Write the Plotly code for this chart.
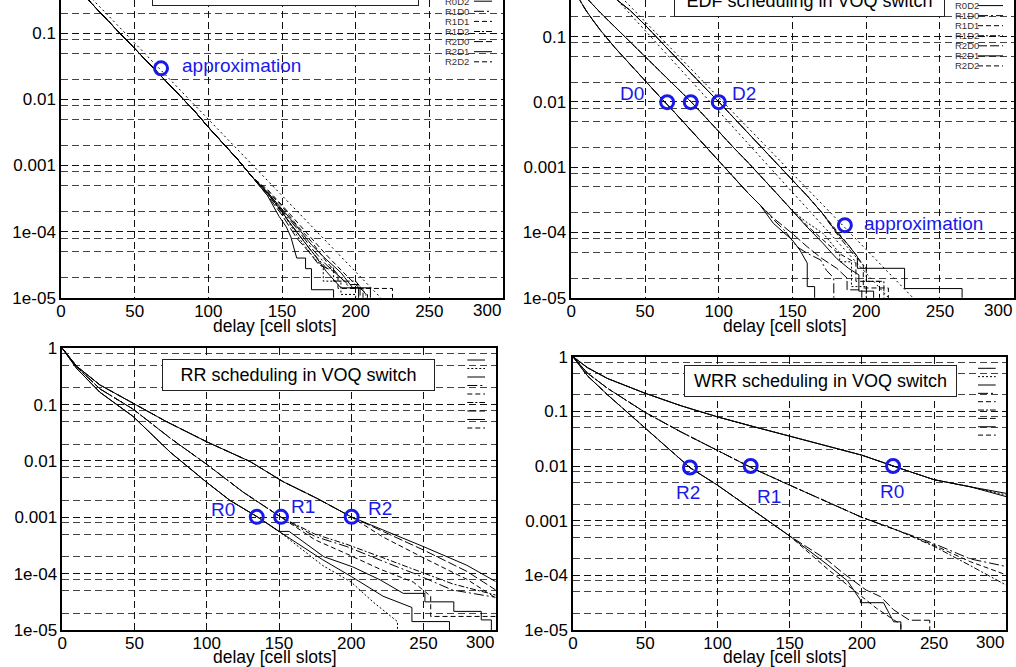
import math
import plotly.graph_objects as go

W, H = 1016, 667

# ---------------- FIFO panel (top-left) ----------------
FIFO_HEAD_X = [0, 10, 20, 30, 40, 50, 60, 70, 80, 90, 100, 110, 120, 130]
FIFO_HEAD_P = [1.0, 0.562, 0.295, 0.170, 0.100, 0.0589, 0.0347, 0.0204, 0.0120, 6.92e-3, 3.80e-3, 2.19e-3, 1.23e-3, 6.61e-4]
FIFO_R0D0_X = [140, 148, 153, 156, 160, 166, 166, 170, 170, 185, 185]
FIFO_R0D0_P = [3.55e-4, 1.70e-4, 1.17e-4, 8.3e-5, 3.98e-5, 3.98e-5, 2.75e-5, 2.75e-5, 1.32e-5, 1.32e-5, 1e-6]
FIFO_R0D1_X = [140, 150, 160, 170, 178, 178, 190, 190, 200, 200]
FIFO_R0D1_P = [3.98e-4, 2.0e-4, 8.9e-5, 4.47e-5, 2.82e-5, 1.78e-5, 1.78e-5, 1.12e-5, 1.12e-5, 1e-6]
FIFO_R0D2_X = [140, 150, 158, 165, 172, 180, 190, 202, 202]
FIFO_R0D2_P = [3.8e-4, 2.0e-4, 1.12e-4, 7.08e-5, 4.47e-5, 2.51e-5, 1.41e-5, 1.41e-5, 1e-6]
FIFO_R1D0_X = [140, 150, 160, 170, 180, 190, 196, 205, 205]
FIFO_R1D0_P = [3.98e-4, 2.09e-4, 1.12e-4, 5.62e-5, 3.16e-5, 2.0e-5, 1.41e-5, 1.41e-5, 1e-6]
FIFO_R1D1_X = [140, 150, 160, 170, 180, 188, 188, 225, 225]
FIFO_R1D1_P = [4.17e-4, 2.4e-4, 1.26e-4, 7.08e-5, 3.55e-5, 2.24e-5, 1.38e-5, 1.38e-5, 1e-6]
FIFO_R1D2_X = [140, 150, 160, 170, 180, 185, 185, 200, 207, 207]
FIFO_R1D2_P = [3.8e-4, 1.91e-4, 1.0e-4, 5.01e-5, 2.82e-5, 2.82e-5, 1.78e-5, 1.78e-5, 1.12e-5, 1e-6]
FIFO_R2D0_X = [140, 150, 160, 168, 175, 185, 195, 203, 203]
FIFO_R2D0_P = [3.55e-4, 1.78e-4, 7.94e-5, 5.01e-5, 3.16e-5, 2.51e-5, 1.58e-5, 1.58e-5, 1e-6]
FIFO_R2D1_X = [140, 150, 160, 170, 180, 190, 198, 210, 210]
FIFO_R2D1_P = [3.98e-4, 2.19e-4, 1.2e-4, 6.31e-5, 3.8e-5, 2.4e-5, 1.41e-5, 1.41e-5, 1e-6]
FIFO_R2D2_X = [140, 150, 160, 170, 180, 190, 200, 208, 208]
FIFO_R2D2_P = [4.37e-4, 2.51e-4, 1.41e-4, 7.94e-5, 4.47e-5, 2.63e-5, 1.58e-5, 1.12e-5, 1e-6]
FIFO_APPROX_X = [0, 220]
FIFO_APPROX_P = [1.02, 8.5e-6]

# ---------------- EDF panel (top-right) ----------------
EDF_D0_HEAD_X = [0, 3, 6, 10, 15, 20, 30, 40, 50, 60, 70, 80, 90, 100, 110, 120, 128]
EDF_D0_HEAD_P = [1.0, 0.562, 0.355, 0.251, 0.174, 0.123, 0.0661, 0.0372, 0.0209, 0.0120, 6.92e-3, 3.89e-3, 2.19e-3, 1.26e-3, 7.08e-4, 3.98e-4, 2.63e-4]
EDF_R0D0_X = [137, 150, 155, 160, 160, 165, 165]
EDF_R0D0_P = [1.38e-4, 7.59e-5, 5.37e-5, 3.39e-5, 1.48e-5, 1.48e-5, 1e-6]
EDF_R1D0_X = [137, 145, 153, 160, 169, 173, 178, 178]
EDF_R1D0_P = [1.58e-4, 1.05e-4, 6.03e-5, 4.79e-5, 3.8e-5, 2.63e-5, 2.0e-5, 1e-6]
EDF_R2D0_X = [137, 150, 160, 170, 180, 187, 187, 197, 197]
EDF_R2D0_P = [1.66e-4, 9.55e-5, 6.03e-5, 3.98e-5, 2.82e-5, 2.0e-5, 1.32e-5, 1.32e-5, 1e-6]

EDF_D1_HEAD_X = [0, 5, 10, 20, 30, 40, 50, 60, 70, 80, 90, 100, 110, 120, 130, 140, 150]
EDF_D1_HEAD_P = [1.0, 0.631, 0.398, 0.229, 0.138, 0.0832, 0.0501, 0.0295, 0.0178, 0.0107, 6.17e-3, 3.47e-3, 2.0e-3, 1.17e-3, 6.76e-4, 3.8e-4, 2.14e-4]
EDF_R0D1_X = [160, 171, 182, 182, 190, 190, 200, 200]
EDF_R0D1_P = [1.41e-4, 9.55e-5, 4.79e-5, 3.55e-5, 3.55e-5, 1.48e-5, 1.48e-5, 1e-6]
EDF_R1D1_X = [160, 170, 180, 193, 193, 209, 209]
EDF_R1D1_P = [1.26e-4, 7.94e-5, 5.01e-5, 3.39e-5, 1.78e-5, 1.78e-5, 1e-6]
EDF_R2D1_X = [160, 170, 180, 188, 195, 195, 205, 205]
EDF_R2D1_P = [1.2e-4, 7.08e-5, 3.98e-5, 2.82e-5, 2.24e-5, 1.26e-5, 1.26e-5, 1e-6]

EDF_D2_HEAD_X = [0, 10, 20, 30, 40, 50, 60, 70, 80, 90, 100, 110, 120, 130, 140, 150, 160, 170]
EDF_D2_HEAD_P = [1.0, 0.832, 0.603, 0.380, 0.251, 0.151, 0.0871, 0.0501, 0.0288, 0.0170, 0.0100, 5.75e-3, 3.24e-3, 1.86e-3, 1.07e-3, 6.31e-4, 3.63e-4, 2.0e-4]
EDF_R0D2_X = [180, 187, 194, 194, 226, 226, 265, 265]
EDF_R0D2_P = [1.0e-4, 6.76e-5, 4.27e-5, 2.82e-5, 2.82e-5, 1.38e-5, 1.38e-5, 1e-6]
EDF_R1D2_X = [180, 190, 200, 200, 212, 212]
EDF_R1D2_P = [9.55e-5, 5.01e-5, 2.82e-5, 1.78e-5, 1.78e-5, 1e-6]
EDF_R2D2_X = [180, 190, 198, 198, 215, 215]
EDF_R2D2_P = [1.05e-4, 5.62e-5, 3.16e-5, 1.41e-5, 1.41e-5, 1e-6]
EDF_APPROX1_X = [20, 232]
EDF_APPROX1_P = [0.85, 9.8e-6]
EDF_APPROX2_X = [20, 216]
EDF_APPROX2_P = [0.69, 9.5e-6]

# ---------------- RR panel (bottom-left) ----------------
RR_R2_HEAD_X = [0, 10, 26, 49, 72, 100, 130, 153, 176, 200]
RR_R2_HEAD_P = [1.0, 0.479, 0.224, 0.105, 0.0501, 0.0219, 9.77e-3, 4.27e-3, 2.19e-3, 1.02e-3]
RR_R2D0_X = [222, 250, 280, 300]
RR_R2D0_P = [5.62e-4, 2.63e-4, 1.10e-4, 5.13e-5]
RR_R2D1_X = [222, 250, 280, 300]
RR_R2D1_P = [6.03e-4, 3.02e-4, 1.41e-4, 7.24e-5]
RR_R2D2_X = [222, 250, 280, 300]
RR_R2D2_P = [4.47e-4, 1.91e-4, 7.94e-5, 3.72e-5]

RR_R1_HEAD_X = [0, 10, 26, 49, 75, 100, 125, 151]
RR_R1_HEAD_P = [1.0, 0.468, 0.191, 0.0832, 0.0251, 8.71e-3, 2.82e-3, 1.02e-3]
RR_R1D0_X = [175, 197, 220, 243, 270, 300]
RR_R1D0_P = [4.57e-4, 3.02e-4, 1.74e-4, 1.02e-4, 5.13e-5, 3.8e-5]
RR_R1D1_X = [175, 197, 220, 243, 255, 255, 300]
RR_R1D1_P = [3.98e-4, 2.24e-4, 1.20e-4, 7.08e-5, 3.98e-5, 1.74e-5, 1.74e-5]
RR_R1D2_X = [175, 197, 220, 243, 270, 300]
RR_R1D2_P = [5.01e-4, 3.31e-4, 2.0e-4, 1.20e-4, 6.61e-5, 4.17e-5]

RR_R0_HEAD_X = [0, 10, 26, 49, 75, 100, 116, 135, 150]
RR_R0_HEAD_P = [1.0, 0.437, 0.166, 0.0617, 0.0141, 4.17e-3, 2.0e-3, 1.02e-3, 5.62e-4]
RR_R0D0_X = [157, 181, 201, 220, 236, 251, 251, 271, 271, 290, 290, 297, 297]
RR_R0D0_P = [5.62e-4, 2.0e-4, 1.32e-4, 7.76e-5, 4.47e-5, 4.47e-5, 3.16e-5, 3.16e-5, 2.14e-5, 2.14e-5, 1.51e-5, 1.51e-5, 1e-6]
RR_R0D1_X = [165, 180, 200, 215, 232, 232]
RR_R0D1_P = [2.82e-4, 1.41e-4, 7.08e-5, 3.16e-5, 1.41e-5, 1e-6]
RR_R0D2_X = [165, 180, 200, 222, 242, 242, 268, 268]
RR_R0D2_P = [3.16e-4, 1.78e-4, 8.91e-5, 3.98e-5, 2.51e-5, 1.41e-5, 1.41e-5, 1e-6]

# ---------------- WRR panel (bottom-right) ----------------
WRR_R0_HEAD_X = [0, 10, 24, 50, 75, 100, 125, 150, 175, 200, 225, 250, 275]
WRR_R0_HEAD_P = [1.0, 0.631, 0.398, 0.214, 0.126, 0.0794, 0.0525, 0.0355, 0.0240, 0.0158, 9.33e-3, 5.62e-3, 4.17e-3]
WRR_R0D0_X = [300]
WRR_R0D0_P = [3.16e-3]
WRR_R0D1_X = [300]
WRR_R0D1_P = [2.95e-3]
WRR_R0D2_X = [300]
WRR_R0D2_P = [2.75e-3]

WRR_R1_HEAD_X = [0, 10, 24, 50, 75, 100, 125, 150, 175, 200, 225]
WRR_R1_HEAD_P = [1.0, 0.501, 0.263, 0.0955, 0.0417, 0.0195, 8.91e-3, 4.47e-3, 2.24e-3, 1.15e-3, 6.61e-4]
WRR_R1D0_X = [250, 275, 300]
WRR_R1D0_P = [3.8e-4, 2.0e-4, 1.45e-4]
WRR_R1D1_X = [250, 275, 300]
WRR_R1D1_P = [3.55e-4, 1.78e-4, 1.02e-4]
WRR_R1D2_X = [250, 275, 300]
WRR_R1D2_P = [3.39e-4, 1.51e-4, 6.61e-5]

WRR_R2_HEAD_X = [0, 10, 24, 50, 81, 100, 126, 150]
WRR_R2_HEAD_P = [1.0, 0.447, 0.200, 0.0501, 9.33e-3, 4.47e-3, 1.45e-3, 5.25e-4]
WRR_R2D0_X = [176, 187, 203, 213, 222, 233, 247, 247]
WRR_R2D0_P = [1.91e-4, 1.10e-4, 5.37e-5, 4.07e-5, 2.34e-5, 1.51e-5, 1.51e-5, 1e-6]
WRR_R2D1_X = [176, 190, 199, 199, 215, 222, 227, 227]
WRR_R2D1_P = [1.58e-4, 7.94e-5, 3.55e-5, 3.16e-5, 3.16e-5, 1.41e-5, 1.41e-5, 1e-6]
WRR_R2D2_X = [176, 199, 210, 227, 227]
WRR_R2D2_P = [1.32e-4, 4.37e-5, 2.51e-5, 1.26e-5, 1e-6]

# ---------------- markers & labels ----------------
MARK_FIFO_X = [67.9]
MARK_FIFO_P = [0.0295]
MARK_EDF_X = [65, 81, 100, 185.5]
MARK_EDF_P = [0.0099, 0.0099, 0.0099, 1.29e-4]
MARK_RR_X = [134.6, 151.4, 200.3]
MARK_RR_P = [1.02e-3, 1.02e-3, 1.02e-3]
MARK_WRR_X = [81, 123, 221.6]
MARK_WRR_P = [9.4e-3, 0.0100, 0.0100]

SERIES = ["R0D0", "R0D1", "R0D2", "R1D0", "R1D1", "R1D2", "R2D0", "R2D1", "R2D2"]
X_TICKS = [0, 50, 100, 150, 200, 250]
Y_TICKS = [1e-5, 1e-4, 1e-3, 1e-2, 1e-1, 1]
Y_TICKTEXT = ["1e-05", "1e-04", "0.001", "0.01", "0.1", "1"]
X_TITLE = "delay [cell slots]"

DASH = {
    "R0D0": "solid", "R0D1": "2px,2px", "R0D2": "solid",
    "R1D0": "10px,3px,2px,3px", "R1D1": "5px,3px", "R1D2": "6px,2px,2px,2px",
    "R2D0": "9px,3px", "R2D1": "solid", "R2D2": "5px,3px",
}
BLUE = "rgb(25,25,235)"
FONT = "Arial, 'Liberation Sans', Helvetica, sans-serif"

fig = go.Figure()


def add_line(ax, x, p, dash, width=1.0):
    fig.add_trace(go.Scatter(
        x=x, y=p, mode="lines",
        line=dict(color="black", width=width, dash=dash),
        xaxis="x" + ax, yaxis="y" + ax, showlegend=False, hoverinfo="skip"))


# FIFO
fifo_tails = {
    "R0D0": (FIFO_R0D0_X, FIFO_R0D0_P), "R0D1": (FIFO_R0D1_X, FIFO_R0D1_P),
    "R0D2": (FIFO_R0D2_X, FIFO_R0D2_P), "R1D0": (FIFO_R1D0_X, FIFO_R1D0_P),
    "R1D1": (FIFO_R1D1_X, FIFO_R1D1_P), "R1D2": (FIFO_R1D2_X, FIFO_R1D2_P),
    "R2D0": (FIFO_R2D0_X, FIFO_R2D0_P), "R2D1": (FIFO_R2D1_X, FIFO_R2D1_P),
    "R2D2": (FIFO_R2D2_X, FIFO_R2D2_P),
}
for s in SERIES:
    tx, tp = fifo_tails[s]
    add_line("", FIFO_HEAD_X + tx, FIFO_HEAD_P + tp, DASH[s])
add_line("", FIFO_APPROX_X, FIFO_APPROX_P, "2px,3px")

# EDF
edf = {
    "R0D0": (EDF_D0_HEAD_X, EDF_D0_HEAD_P, EDF_R0D0_X, EDF_R0D0_P),
    "R1D0": (EDF_D0_HEAD_X, EDF_D0_HEAD_P, EDF_R1D0_X, EDF_R1D0_P),
    "R2D0": (EDF_D0_HEAD_X, EDF_D0_HEAD_P, EDF_R2D0_X, EDF_R2D0_P),
    "R0D1": (EDF_D1_HEAD_X, EDF_D1_HEAD_P, EDF_R0D1_X, EDF_R0D1_P),
    "R1D1": (EDF_D1_HEAD_X, EDF_D1_HEAD_P, EDF_R1D1_X, EDF_R1D1_P),
    "R2D1": (EDF_D1_HEAD_X, EDF_D1_HEAD_P, EDF_R2D1_X, EDF_R2D1_P),
    "R0D2": (EDF_D2_HEAD_X, EDF_D2_HEAD_P, EDF_R0D2_X, EDF_R0D2_P),
    "R1D2": (EDF_D2_HEAD_X, EDF_D2_HEAD_P, EDF_R1D2_X, EDF_R1D2_P),
    "R2D2": (EDF_D2_HEAD_X, EDF_D2_HEAD_P, EDF_R2D2_X, EDF_R2D2_P),
}
for s in SERIES:
    hx, hp, tx, tp = edf[s]
    add_line("2", hx + tx, hp + tp, DASH[s])
add_line("2", EDF_APPROX1_X, EDF_APPROX1_P, "2px,3px")
add_line("2", EDF_APPROX2_X, EDF_APPROX2_P, "2px,3px")

# RR
rr = {
    "R0D0": (RR_R0_HEAD_X, RR_R0_HEAD_P, RR_R0D0_X, RR_R0D0_P),
    "R0D1": (RR_R0_HEAD_X, RR_R0_HEAD_P, RR_R0D1_X, RR_R0D1_P),
    "R0D2": (RR_R0_HEAD_X, RR_R0_HEAD_P, RR_R0D2_X, RR_R0D2_P),
    "R1D0": (RR_R1_HEAD_X, RR_R1_HEAD_P, RR_R1D0_X, RR_R1D0_P),
    "R1D1": (RR_R1_HEAD_X, RR_R1_HEAD_P, RR_R1D1_X, RR_R1D1_P),
    "R1D2": (RR_R1_HEAD_X, RR_R1_HEAD_P, RR_R1D2_X, RR_R1D2_P),
    "R2D0": (RR_R2_HEAD_X, RR_R2_HEAD_P, RR_R2D0_X, RR_R2D0_P),
    "R2D1": (RR_R2_HEAD_X, RR_R2_HEAD_P, RR_R2D1_X, RR_R2D1_P),
    "R2D2": (RR_R2_HEAD_X, RR_R2_HEAD_P, RR_R2D2_X, RR_R2D2_P),
}
for s in SERIES:
    hx, hp, tx, tp = rr[s]
    add_line("3", hx + tx, hp + tp, DASH[s])

# WRR
wrr = {
    "R0D0": (WRR_R0_HEAD_X, WRR_R0_HEAD_P, WRR_R0D0_X, WRR_R0D0_P),
    "R0D1": (WRR_R0_HEAD_X, WRR_R0_HEAD_P, WRR_R0D1_X, WRR_R0D1_P),
    "R0D2": (WRR_R0_HEAD_X, WRR_R0_HEAD_P, WRR_R0D2_X, WRR_R0D2_P),
    "R1D0": (WRR_R1_HEAD_X, WRR_R1_HEAD_P, WRR_R1D0_X, WRR_R1D0_P),
    "R1D1": (WRR_R1_HEAD_X, WRR_R1_HEAD_P, WRR_R1D1_X, WRR_R1D1_P),
    "R1D2": (WRR_R1_HEAD_X, WRR_R1_HEAD_P, WRR_R1D2_X, WRR_R1D2_P),
    "R2D0": (WRR_R2_HEAD_X, WRR_R2_HEAD_P, WRR_R2D0_X, WRR_R2D0_P),
    "R2D1": (WRR_R2_HEAD_X, WRR_R2_HEAD_P, WRR_R2D1_X, WRR_R2D1_P),
    "R2D2": (WRR_R2_HEAD_X, WRR_R2_HEAD_P, WRR_R2D2_X, WRR_R2D2_P),
}
for s in SERIES:
    hx, hp, tx, tp = wrr[s]
    add_line("4", hx + tx, hp + tp, DASH[s])

# blue circles
for ax, mx, mp in [("", MARK_FIFO_X, MARK_FIFO_P), ("2", MARK_EDF_X, MARK_EDF_P),
                   ("3", MARK_RR_X, MARK_RR_P), ("4", MARK_WRR_X, MARK_WRR_P)]:
    fig.add_trace(go.Scatter(
        x=mx, y=mp, mode="markers",
        marker=dict(symbol="circle-open", size=13, color=BLUE, line=dict(width=3, color=BLUE)),
        xaxis="x" + ax, yaxis="y" + ax, showlegend=False, hoverinfo="skip"))

# ---------------- axes ----------------
MINOR = []
for k in range(-5, 0):
    for m in (2, 5, 8):
        MINOR.append(m * 10.0 ** k)

panels = {
    # name: (x px left, x px right, y px top, y px bottom, log top, top frame)
    "1": (61.0, 503.0, 0.0, 297.7, -0.496, False),
    "2": (571.3, 1013.7, 0.0, 297.7, -0.439, False),
    "3": (62.3, 495.7, 348.3, 630.0, 0.0, True),
    "4": (573.0, 1006.3, 356.7, 630.0, 0.0, True),
}
layout_axes = {}
for key, (xl, xr, yt, yb, ltop, topframe) in panels.items():
    xname = "xaxis" if key == "1" else "xaxis" + key
    yname = "yaxis" if key == "1" else "yaxis" + key
    anc = "" if key == "1" else key
    layout_axes[xname] = dict(
        domain=[xl / W, xr / W], anchor="y" + anc, range=[0, 300], automargin=False,
        tickmode="array", tickvals=X_TICKS, ticks="", ticklabelstandoff=-3,
        tickfont=dict(size=17, color="black", family=FONT),
        showgrid=True, gridcolor="#111", gridwidth=1, griddash="7px,4px",
        showline=True, linecolor="black", linewidth=1.5, mirror=topframe,
        zeroline=False, fixedrange=True)
    layout_axes[yname] = dict(
        domain=[1 - yb / H, 1 - yt / H], anchor="x" + anc, type="log", automargin=False,
        range=[-5, ltop], tickmode="array", tickvals=Y_TICKS, ticktext=Y_TICKTEXT,
        ticks="", tickfont=dict(size=17, color="black", family=FONT),
        showgrid=True, gridcolor="#111", gridwidth=1, griddash="7px,4px",
        minor=dict(tickmode="array", tickvals=MINOR, showgrid=True,
                   gridcolor="#444", gridwidth=1, griddash="7px,4px", ticks=""),
        showline=True, linecolor="black", linewidth=1.5, mirror=True,
        zeroline=False, fixedrange=True)

annotations = []

# x-axis titles and right-aligned "300" labels
for cx, cy, ax, ty in [(275, 326, "x", 310), (785, 326, "x2", 310),
                       (275, 657, "x3", 642), (785, 657, "x4", 642)]:
    annotations.append(dict(text=X_TITLE, xref="paper", yref="paper", x=cx / W, y=1 - cy / H,
                            xanchor="center", yanchor="middle", showarrow=False,
                            font=dict(size=17.5, color="black", family=FONT)))
    annotations.append(dict(text="300", xref=ax + " domain", yref="paper", x=1.0, y=1 - ty / H,
                            xanchor="right", yanchor="middle", showarrow=False,
                            font=dict(size=17, color="black", family=FONT)))

# title boxes
for txt, cx, cy, bw, bh in [("FIFO scheduling in VOQ switch", 285.5, -9.9, 267, 31.7),
                            ("EDF scheduling in VOQ switch", 809.3, 1.5, 271, 31.7),
                            ("RR scheduling in VOQ switch", 298.0, 375.2, 273, 31.7),
                            ("WRR scheduling in VOQ switch", 820.3, 380.5, 273, 32.4)]:
    annotations.append(dict(text=txt, xref="paper", yref="paper", x=cx / W, y=1 - cy / H,
                            xanchor="center", yanchor="middle", showarrow=False,
                            font=dict(size=18, color="black", family=FONT),
                            bgcolor="white", bordercolor="#222", borderwidth=1, borderpad=0,
                            width=bw - 2, height=bh - 2, align="center"))

# blue labels (data coords; log axes use log10 for y)
for txt, ax, x, p, xa in [("approximation", "", 80.8, 0.0324, "left"),
                          ("D0", "2", 41.2, 0.0133, "center"),
                          ("D2", "2", 117.2, 0.0133, "center"),
                          ("approximation", "2", 197.2, 1.37e-4, "left"),
                          ("R0", "3", 111.1, 1.35e-3, "center"),
                          ("R1", "3", 166.8, 1.55e-3, "center"),
                          ("R2", "3", 220.0, 1.45e-3, "center"),
                          ("R2", "4", 79.3, 3.29e-3, "center"),
                          ("R1", "4", 135.4, 2.74e-3, "center"),
                          ("R0", "4", 221.2, 3.37e-3, "center")]:
    annotations.append(dict(text=txt, xref="x" + ax, yref="y" + ax, x=x, y=math.log10(p),
                            xanchor=xa, yanchor="middle", showarrow=False,
                            font=dict(size=19, color=BLUE, family=FONT)))

# legends (text + line samples)
shapes = []
legend_specs = [
    # text-left px, line x0, line x1, first-entry y px, step, show text
    (443.0, 474.0, 492.0, -19.0, 10.1, True),
    (953.3, 978.0, 1003.0, -14.5, 10.05, True),
    (None, 467.3, 485.0, 360.0, 8.5, False),
    (None, 978.0, 995.7, 368.3, 8.35, False),
]
for tx, lx0, lx1, y0, step, show in legend_specs:
    for i, s in enumerate(SERIES):
        yy = y0 + i * step
        if show:
            annotations.append(dict(text=s, xref="paper", yref="paper", x=tx / W, y=1 - yy / H,
                                    xanchor="left", yanchor="middle", showarrow=False,
                                    font=dict(size=9.5, color="#333", family=FONT)))
        shapes.append(dict(type="line", xref="paper", yref="paper",
                           x0=lx0 / W, x1=lx1 / W, y0=1 - yy / H, y1=1 - yy / H,
                           line=dict(color="black", width=1, dash=DASH[s])))

fig.update_layout(
    width=W, height=H, margin=dict(l=0, r=0, t=0, b=0, autoexpand=False),
    paper_bgcolor="white", plot_bgcolor="white",
    font=dict(family=FONT, color="black"),
    showlegend=False, annotations=annotations, shapes=shapes,
    **layout_axes)

fig.write_html("out.html", config={"displayModeBar": False},
               post_script="document.body.style.margin='0';document.body.style.overflow='hidden';")
